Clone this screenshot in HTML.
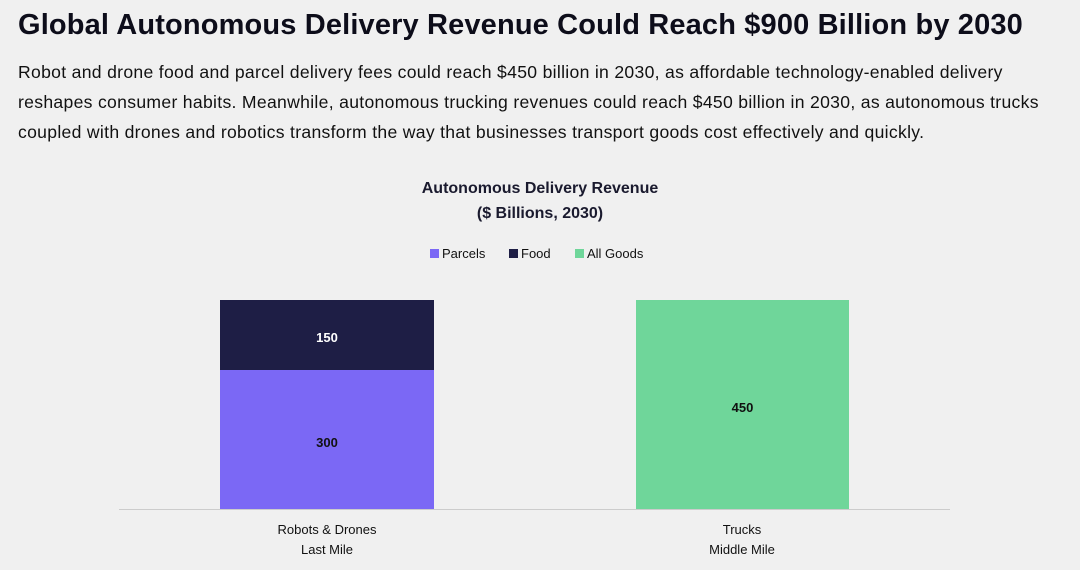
<!DOCTYPE html>
<html><head><meta charset="utf-8"><style>
*{margin:0;padding:0;box-sizing:border-box}
body{width:1080px;height:570px;background:#f0f0f0;font-family:"Liberation Sans",sans-serif;color:#111;position:relative;overflow:hidden}
.a{position:absolute}
h1{position:absolute;left:18px;top:9px;font-size:29px;font-weight:bold;letter-spacing:0.15px;color:#0d0d1a;white-space:nowrap}
.p{left:18px;top:57px;width:1070px;font-size:17.6px;line-height:30px;color:#111;white-space:nowrap;letter-spacing:0.3px}
.t{left:340px;width:400px;text-align:center;font-weight:bold;font-size:16px;color:#1a1a2e}
.l{top:246px;font-size:13px}
.sw{display:inline-block;width:9px;height:9px;margin-right:3px;vertical-align:0}
.lab{font-size:13px;font-weight:bold;text-align:center}
.x{font-size:13px;text-align:center;line-height:20px;width:220px}
</style></head><body>
<h1>Global Autonomous Delivery Revenue Could Reach $900 Billion by 2030</h1>
<div class="a p">Robot and drone food and parcel delivery fees could reach $450 billion in 2030, as affordable technology-enabled delivery<br>reshapes consumer habits. Meanwhile, autonomous trucking revenues could reach $450 billion in 2030, as autonomous trucks<br>coupled with drones and robotics transform the way that businesses transport goods cost effectively and quickly.</div>
<div class="a t" style="top:180px">Autonomous Delivery Revenue</div>
<div class="a t" style="top:205px">($ Billions, 2030)</div>
<div class="a l" style="left:430px"><span class="sw" style="background:#7b68f5"></span>Parcels</div>
<div class="a l" style="left:509px"><span class="sw" style="background:#1e1e45"></span>Food</div>
<div class="a l" style="left:575px"><span class="sw" style="background:#6fd69a"></span>All Goods</div>
<div class="a" style="left:220px;top:300px;width:214px;height:70px;background:#1e1e45"></div>
<div class="a" style="left:220px;top:370px;width:214px;height:139px;background:#7b68f5"></div>
<div class="a" style="left:636px;top:300px;width:213px;height:209px;background:#6fd69a"></div>
<div class="a lab" style="left:220px;width:214px;top:330px;color:#fff">150</div>
<div class="a lab" style="left:220px;width:214px;top:435px;color:#111">300</div>
<div class="a lab" style="left:636px;width:213px;top:400px;color:#111">450</div>
<div class="a" style="left:119px;top:509px;width:831px;height:1px;background:#ccc"></div>
<div class="a x" style="left:217px;top:520px">Robots &amp; Drones<br>Last Mile</div>
<div class="a x" style="left:632px;top:520px">Trucks<br>Middle Mile</div>
</body></html>
